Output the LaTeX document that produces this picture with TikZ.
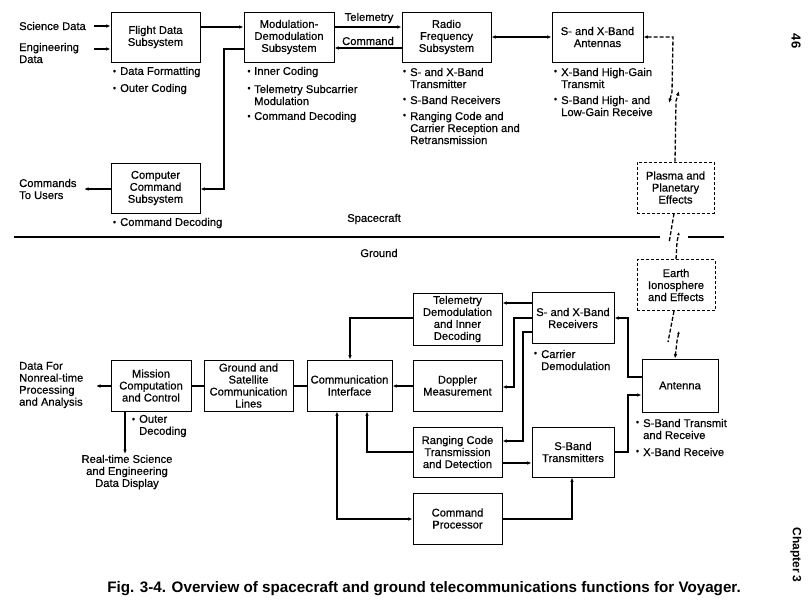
\documentclass[tikz,border=0pt]{standalone}
\usepackage{fontspec}
\setmainfont{Liberation Sans}
\newfontfamily\medfam{Liberation Sans}[FakeBold=0.45]
\usetikzlibrary{arrows.meta}
\newcommand{\fs}{\medfam\fontsize{11.2}{12}\selectfont}
\tikzset{
  box/.style={draw, line width=0.9pt, align=center, inner sep=0pt, font=\fs},
  dbox/.style={box, dashed, dash pattern=on 3pt off 2pt},
  conn/.style={line width=1.5pt},
  arr/.style={conn, -{Latex[length=4.5pt,width=3.6pt]}},
  arrtwo/.style={conn, {Latex[length=4.5pt,width=3.6pt]}-{Latex[length=4.5pt,width=3.6pt]}},
  dconn/.style={line width=1.3pt, dash pattern=on 4pt off 2pt},
  lbl/.style={anchor=west, align=left, inner sep=0pt, font=\fs},
  bul/.style={inner sep=0pt, font=\medfam\fontsize{9}{9}\selectfont},
  sepline/.style={line width=1.5pt}
}
\begin{document}
\begin{tikzpicture}[x=1pt,y=-1pt]
\useasboundingbox (0,0) rectangle (810,611);
% ---------- Spacecraft boxes
\node[box, minimum width=89pt, minimum height=50pt] (fds) at (155.5,37) {Flight Data\\Subsystem};
\node[box, minimum width=90pt, minimum height=50pt] (mod) at (289,37) {Modulation-\\Demodulation\\Subsystem};
\node[box, minimum width=89pt, minimum height=50pt] (rfs) at (446.5,37) {Radio\\Frequency\\Subsystem};
\node[box, minimum width=91pt, minimum height=50pt] (ant) at (597.5,37) {S- and X-Band\\Antennas};
\node[box, minimum width=89pt, minimum height=50pt] (ccs) at (155.5,188) {Computer\\Command\\Subsystem};
\node[dbox, minimum width=77pt, minimum height=51pt] (plasma) at (675.5,187.5) {Plasma and\\Planetary\\Effects};
\node[dbox, minimum width=78pt, minimum height=51pt] (earth) at (676,285) {Earth\\Ionosphere\\and Effects};
% ---------- Ground boxes
\node[box, minimum width=80pt, minimum height=51pt] (mcc) at (151,385.5) {Mission\\Computation\\and Control};
\node[box, minimum width=89pt, minimum height=51pt] (gsc) at (248.5,385.5) {Ground and\\Satellite\\Communication\\Lines};
\node[box, minimum width=85pt, minimum height=51pt] (ci) at (349.5,385.5) {Communication\\Interface};
\node[box, minimum width=89pt, minimum height=52pt] (tdm) at (457.5,319) {Telemetry\\Demodulation\\and Inner\\Decoding};
\node[box, minimum width=89pt, minimum height=51pt] (dop) at (457.5,385.5) {Doppler\\Measurement};
\node[box, minimum width=89pt, minimum height=50pt] (rng) at (457.5,452) {Ranging Code\\Transmission\\and Detection};
\node[box, minimum width=89pt, minimum height=51pt] (cmdp) at (457.5,518.5) {Command\\Processor};
\node[box, minimum width=82pt, minimum height=51pt] (rcv) at (573,318) {S- and X-Band\\Receivers};
\node[box, minimum width=82pt, minimum height=50pt] (stx) at (573,452) {S-Band\\Transmitters};
\node[box, minimum width=76pt, minimum height=53pt] (antg) at (680,385.5) {Antenna};
% ---------- free labels
\node[lbl] (sci) at (19,26) {Science Data};
\node[lbl] (eng) at (19,53) {Engineering\\Data};
\node[lbl] (cmdu) at (19,189) {Commands\\To Users};
\node[lbl] (data) at (19,385) {Data For\\Nonreal-time\\Processing\\and Analysis};
\node[align=center, inner sep=0pt, font=\fs] (rt) at (127,472) {Real-time Science\\and Engineering\\Data Display};
\node[inner sep=0pt, font=\fs] (tlm) at (369,18) {Telemetry};
\node[inner sep=0pt, font=\fs] (cmdl) at (368,41) {Command};
\node[inner sep=0pt, font=\fs] (sc) at (374,219) {Spacecraft};
\node[inner sep=0pt, font=\fs] (gr) at (379,253) {Ground};
% ---------- bullets
\node[bul] (b1) at (114.5,72) {\textbullet}; \node[lbl] (t1) at (120,72) {Data Formatting};
\node[bul] (b2) at (114.5,89) {\textbullet}; \node[lbl] (t2) at (120,89) {Outer Coding};
\node[bul] (b3) at (249,72) {\textbullet}; \node[lbl] (t3) at (254,72) {Inner Coding};
\node[bul] (b4) at (249,89) {\textbullet}; \node[lbl] (t4) at (254,95) {Telemetry Subcarrier\\Modulation};
\node[bul] (b5) at (249,117) {\textbullet}; \node[lbl] (t5) at (254,117) {Command Decoding};
\node[bul] (b6) at (404.5,72) {\textbullet}; \node[lbl] (t6) at (410,78) {S- and X-Band\\Transmitter};
\node[bul] (b7) at (404.5,100) {\textbullet}; \node[lbl] (t7) at (410,100) {S-Band Receivers};
\node[bul] (b8) at (404.5,116) {\textbullet}; \node[lbl] (t8) at (410,128) {Ranging Code and\\Carrier Reception and\\Retransmission};
\node[bul] (b9) at (555.5,72) {\textbullet}; \node[lbl] (t9) at (561,78) {X-Band High-Gain\\Transmit};
\node[bul] (b10) at (555.5,100) {\textbullet}; \node[lbl] (t10) at (561,106) {S-Band High- and\\Low-Gain Receive};
\node[bul] (b11) at (114.5,223) {\textbullet}; \node[lbl] (t11) at (120,223) {Command Decoding};
\node[bul] (b12) at (133.5,420) {\textbullet}; \node[lbl] (t12) at (139,426) {Outer\\Decoding};
\node[bul] (b13) at (535.5,354) {\textbullet}; \node[lbl] (t13) at (541,360) {Carrier\\Demodulation};
\node[bul] (b14) at (637.5,423) {\textbullet}; \node[lbl] (t14) at (643,429) {S-Band Transmit\\and Receive};
\node[bul] (b15) at (637.5,452) {\textbullet}; \node[lbl] (t15) at (643,452) {X-Band Receive};
% ---------- free end coordinates
\coordinate (sciend) at (94,26);
\coordinate (engend) at (94,49);
\coordinate (usersend) at (84,189);
\coordinate (dataend) at (96,386);
\coordinate (rtend) at (125,454);
% ---------- spacecraft connectors
\draw[arr] (sciend) -- (fds.west |- 0,26);
\draw[arr] (engend) -- (fds.west |- 0,49);
\draw[arr] (fds.east |- 0,27) -- (mod.west |- 0,27);
\draw[arr] (mod.west |- 0,49) -| (224,189) -- (ccs.east |- 0,189);
\draw[arr] (ccs.west |- 0,189) -- (usersend);
\draw[arr] (mod.east |- 0,27) -- (rfs.west |- 0,27);
\draw[arr] (rfs.west |- 0,48) -- (mod.east |- 0,48);
\draw[arrtwo] (rfs.east |- 0,37) -- (ant.west |- 0,37);
% ---------- radio links (dashed)
\draw[dconn, {Latex[length=4.5pt,width=3.6pt]}-{Latex[length=4.5pt,width=3.6pt]}] (ant.east |- 0,37) -- (673,37) -- (672,92) -- (669,103);
\draw[dconn, -{Latex[length=4.5pt,width=3.6pt]}] (plasma.north -| 675,0) -- (676,101) -- (679,91);
\draw[dconn] (plasma.south -| 674,0) -- (669,243);
\draw[dconn, -{Latex[length=3pt,width=2.6pt]}] (earth.north -| 676,0) -- (677,242) -- (679,232);
\draw[dconn] (earth.south -| 674,0) -- (668,342);
\draw[dconn, {Latex[length=3pt,width=2.6pt]}-{Latex[length=4.5pt,width=3.6pt]}] (679,331) -- (677,341) -- (antg.north -| 675,0);
% ---------- separator
\draw[sepline] (14,237) -- (660,237);
\draw[sepline] (688,237) -- (724,237);
% ---------- ground connectors
\draw[arr] (mcc.west |- 0,386) -- (dataend);
\draw[conn] (mcc.east |- 0,386) -- (gsc.west |- 0,386);
\draw[conn] (gsc.east |- 0,386) -- (ci.west |- 0,386);
\draw[arr] (mcc.south -| 125,0) -- (rtend);
\draw[arr] (tdm.west |- 0,318) -| (ci.north -| 350,0);
\draw[arr] (dop.west |- 0,386) -- (ci.east |- 0,386);
\draw[arr] (rng.west |- 0,452) -| (ci.south -| 367,0);
\draw[arrtwo] (ci.south -| 337,0) |- (cmdp.west |- 0,519);
\draw[arr] (rcv.west |- 0,303) -- (tdm.east |- 0,303);
\draw[arr] (rcv.west |- 0,318) -| (514,387) -- (dop.east |- 0,387);
\draw[arr] (rcv.west |- 0,332) -| (523,441) -- (rng.east |- 0,441);
\draw[arr] (rng.east |- 0,463) -- (stx.west |- 0,463);
\draw[arr] (antg.west |- 0,377) -| (628,318) -- (rcv.east |- 0,318);
\draw[arr] (stx.east |- 0,452) -| (628,395) -- (antg.west |- 0,395);
\draw[arr] (cmdp.east |- 0,519) -| (stx.south -| 572,0);
% ---------- caption and margins
\node[inner sep=0pt, font=\fontsize{15.2}{17}\selectfont\bfseries] (cap) at (424,589) {Fig. 3-4. Overview of spacecraft and ground telecommunications functions for Voyager.};
\node[inner sep=0pt, rotate=-90, font=\fontsize{13}{15}\selectfont\bfseries] (pg) at (796,41) {46};
\node[inner sep=0pt, rotate=-90, font=\fontsize{12}{14}\selectfont\bfseries] (ch) at (796,555) {Chapter 3};
\end{tikzpicture}
\end{document}
